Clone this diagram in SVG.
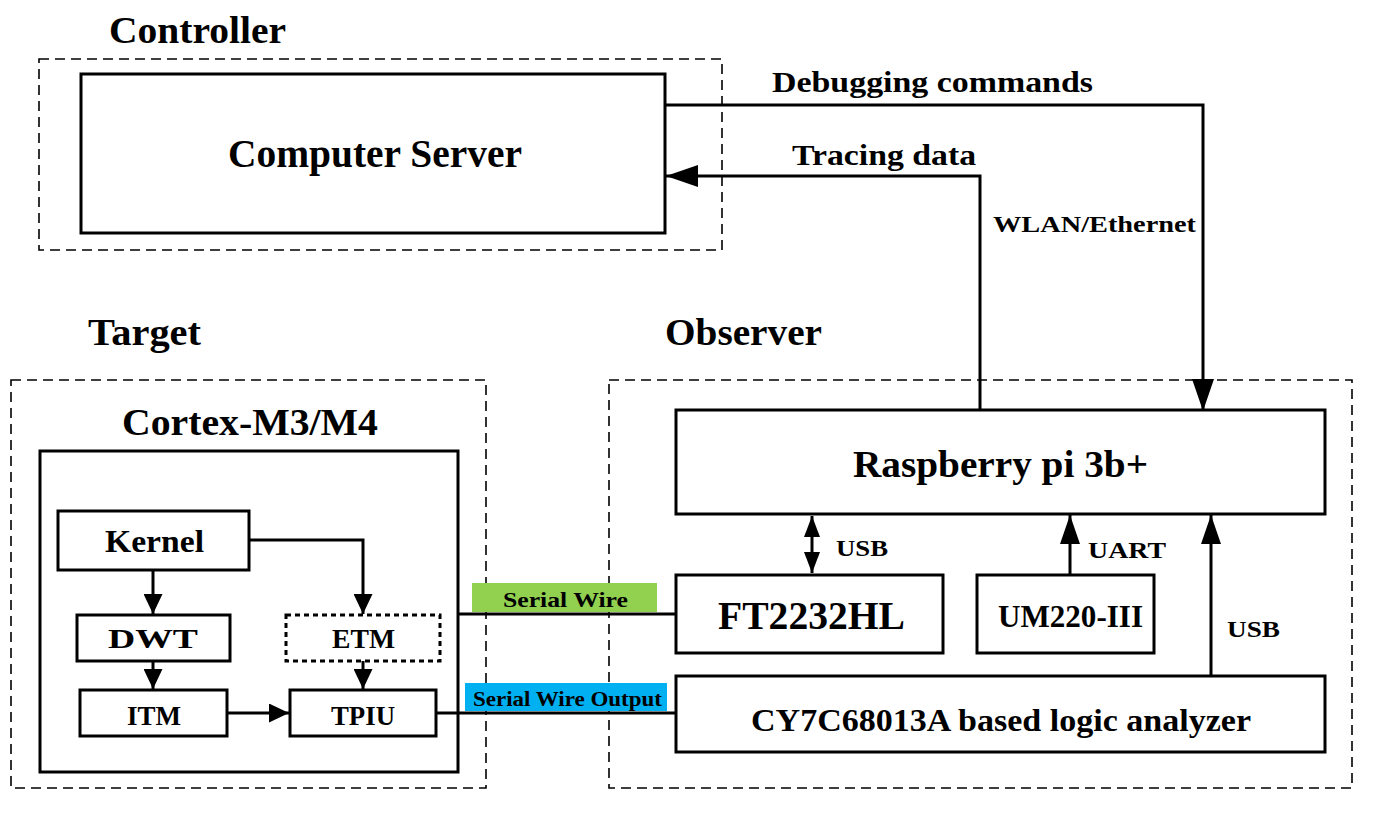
<svg xmlns="http://www.w3.org/2000/svg" width="1374" height="816" viewBox="0 0 1374 816">
<defs>
<style>
.t{font-family:"Liberation Serif","Times New Roman",serif;font-weight:bold;fill:#000}
.box{fill:#fff;stroke:#000;stroke-width:3}
.dash{fill:none;stroke:#000;stroke-width:1.6;stroke-dasharray:10 6}
.ln{fill:none;stroke:#000;stroke-width:3}
</style>
<marker id="big" viewBox="0 0 32 22" refX="32" refY="11" markerWidth="32" markerHeight="22" markerUnits="userSpaceOnUse" orient="auto-start-reverse">
<path d="M0,0 L32,11 L0,22 z" fill="#000"/>
</marker>
<marker id="mid" viewBox="0 0 29 20" refX="29" refY="10" markerWidth="29" markerHeight="20" markerUnits="userSpaceOnUse" orient="auto-start-reverse">
<path d="M0,0 L29,10 L0,20 z" fill="#000"/>
</marker>
<marker id="sm" viewBox="0 0 20 19" refX="20" refY="9.5" markerWidth="20" markerHeight="19" markerUnits="userSpaceOnUse" orient="auto-start-reverse">
<path d="M0,0 L20,9.5 L0,19 z" fill="#000"/>
</marker>
<marker id="usb" viewBox="0 0 21 16" refX="21" refY="8" markerWidth="21" markerHeight="16" markerUnits="userSpaceOnUse" orient="auto-start-reverse">
<path d="M0,0 L21,8 L0,16 z" fill="#000"/>
</marker>
</defs>
<rect width="1374" height="816" fill="#fff"/>

<g id="controller">
<rect class="dash" x="39" y="59" width="683" height="191"/>
<text class="t" x="109" y="43" font-size="38" textLength="177" lengthAdjust="spacingAndGlyphs">Controller</text>
</g>
<g id="target">
<rect class="dash" x="11" y="380" width="475" height="408"/>
<text class="t" x="88" y="345" font-size="38" textLength="113" lengthAdjust="spacingAndGlyphs">Target</text>
</g>
<g id="observer">
<rect class="dash" x="609" y="380" width="743" height="408"/>
<text class="t" x="665" y="345" font-size="38" textLength="157" lengthAdjust="spacingAndGlyphs">Observer</text>
</g>

<g id="server">
<rect class="box" x="81" y="74" width="584" height="159"/>
<text class="t" x="228" y="167" font-size="39" textLength="294" lengthAdjust="spacingAndGlyphs">Computer Server</text>
</g>

<g id="cortex">
<rect class="box" x="40" y="451" width="418" height="321"/>
<text class="t" x="122" y="435" font-size="37" textLength="256" lengthAdjust="spacingAndGlyphs">Cortex-M3/M4</text>
</g>
<g id="kernel">
<rect class="box" x="58" y="511" width="191" height="59"/>
<text class="t" x="105" y="552" font-size="32" textLength="99" lengthAdjust="spacingAndGlyphs">Kernel</text>
</g>
<g id="dwt">
<rect class="box" x="77" y="615" width="153" height="46"/>
<text class="t" x="108" y="648" font-size="27" textLength="90" lengthAdjust="spacingAndGlyphs">DWT</text>
</g>
<g id="etm">
<rect x="286" y="615" width="154" height="46" fill="#fff" stroke="#000" stroke-width="3" stroke-dasharray="5 4"/>
<text class="t" x="332" y="648" font-size="27" textLength="63" lengthAdjust="spacingAndGlyphs">ETM</text>
</g>
<g id="itm">
<rect class="box" x="80" y="690" width="147" height="46"/>
<text class="t" x="127" y="725" font-size="27" textLength="54" lengthAdjust="spacingAndGlyphs">ITM</text>
</g>
<g id="tpiu">
<rect class="box" x="290" y="690" width="146" height="46"/>
<text class="t" x="331" y="725" font-size="27" textLength="64" lengthAdjust="spacingAndGlyphs">TPIU</text>
</g>

<g id="raspberry">
<rect class="box" x="676" y="410" width="649" height="104"/>
<text class="t" x="853" y="477" font-size="38" textLength="295" lengthAdjust="spacingAndGlyphs">Raspberry pi 3b+</text>
</g>
<g id="ft2232">
<rect class="box" x="676" y="575" width="267" height="78"/>
<text class="t" x="718" y="629" font-size="40" textLength="187" lengthAdjust="spacingAndGlyphs">FT2232HL</text>
</g>
<g id="um220">
<rect class="box" x="977" y="575" width="177" height="78"/>
<text class="t" x="998" y="627" font-size="32" textLength="145" lengthAdjust="spacingAndGlyphs">UM220-III</text>
</g>
<g id="logic">
<rect class="box" x="676" y="676" width="649" height="76"/>
<text class="t" x="751" y="731" font-size="32" textLength="500" lengthAdjust="spacingAndGlyphs">CY7C68013A based logic analyzer</text>
</g>

<g id="connectors">
<polyline class="ln" points="665,105 1203,105 1203,411" marker-end="url(#big)"/>
<polyline class="ln" points="980,410 980,176 666,176" marker-end="url(#big)"/>
<line class="ln" x1="153" y1="570" x2="153" y2="614" marker-end="url(#sm)"/>
<polyline class="ln" points="249,540 363,540 363,614" marker-end="url(#sm)"/>
<line class="ln" x1="153" y1="661" x2="153" y2="689" marker-end="url(#sm)"/>
<line class="ln" x1="363" y1="661" x2="363" y2="689" marker-end="url(#sm)"/>
<line class="ln" x1="227" y1="713" x2="289" y2="713" marker-end="url(#sm)"/>
<line class="ln" x1="458" y1="614" x2="676" y2="614"/>
<line class="ln" x1="436" y1="713" x2="676" y2="713"/>
<line class="ln" x1="812" y1="516" x2="812" y2="573" marker-start="url(#usb)" marker-end="url(#usb)"/>
<line class="ln" x1="1070" y1="575" x2="1070" y2="515" marker-end="url(#mid)"/>
<line class="ln" x1="1211" y1="676" x2="1211" y2="515" marker-end="url(#mid)"/>
</g>

<g id="labels">
<text class="t" x="772" y="92" font-size="30" textLength="321" lengthAdjust="spacingAndGlyphs">Debugging commands</text>
<text class="t" x="792" y="165" font-size="30" textLength="184" lengthAdjust="spacingAndGlyphs">Tracing data</text>
<text class="t" x="993" y="232" font-size="23" textLength="203" lengthAdjust="spacingAndGlyphs">WLAN/Ethernet</text>
<rect x="472" y="583" width="185" height="29" fill="#92d050"/>
<text class="t" x="503" y="607" font-size="22" textLength="125" lengthAdjust="spacingAndGlyphs">Serial Wire</text>
<rect x="465" y="683" width="202" height="28" fill="#00b0f0"/>
<text class="t" x="473" y="706" font-size="20" textLength="189" lengthAdjust="spacingAndGlyphs">Serial Wire Output</text>
<text class="t" x="836" y="556" font-size="24" textLength="52" lengthAdjust="spacingAndGlyphs">USB</text>
<text class="t" x="1088" y="558" font-size="24" textLength="78" lengthAdjust="spacingAndGlyphs">UART</text>
<text class="t" x="1227" y="637" font-size="24" textLength="53" lengthAdjust="spacingAndGlyphs">USB</text>
</g>
</svg>
